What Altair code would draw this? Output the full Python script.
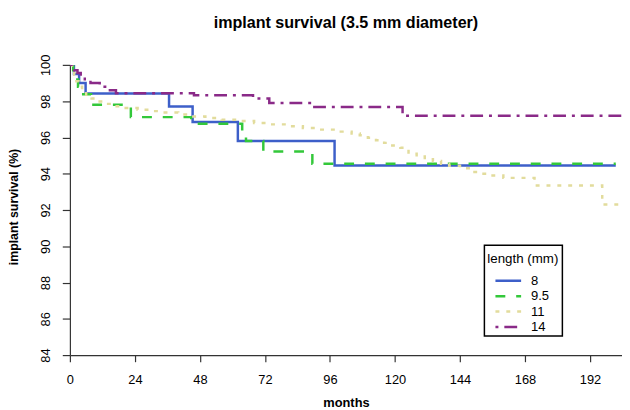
import altair as alt
import pandas as pd

FONT = "Liberation Sans"

lengths = ["8", "9.5", "11", "14"]
line_colors = ["#3d5fc9", "#33c83a", "#e2dc9c", "#8a2a88"]
line_dashes = [[1, 0], [10, 11], [4, 7], [3, 6, 13, 6]]

x_ticks = [0, 24, 48, 72, 96, 120, 144, 168, 192]
y_ticks = [84, 86, 88, 90, 92, 94, 96, 98, 100]

# 8 mm
months_8 = [0, 1.5, 3.4, 5.8, 36.6, 45.3, 62.0, 97.7, 201.5]
surv_8 = [100, 99.5, 99.0, 98.42, 97.7, 96.85, 95.8, 94.45, 94.45]

# 9.5 mm
months_95 = [0, 1.2, 2.2, 3.0, 3.9, 7.8, 22.5, 44.8, 63.6, 65.0, 71.4, 89.5, 201.5]
surv_95 = [100, 99.6, 99.2, 98.8, 98.38, 97.8, 97.12, 96.76, 96.25, 95.8, 95.22, 94.55, 94.55]

# 11 mm
months_11 = [0, 0.8, 1.6, 2.4, 3.2, 4.5, 6.0, 8.0, 10.0, 13.0, 16.0, 20.0, 25.0,
             30.0, 35.0, 40.0, 45.0, 50.0, 56.0, 62.0, 68.0, 74.0, 80.0, 86.0,
             92.0, 100.0, 104.0, 107.0, 110.0, 113.0, 116.0, 119.0, 122.0, 125.0,
             128.0, 131.0, 134.0, 137.0, 140.0, 144.0, 148.0, 151.0, 155.0, 160.0,
             171.5, 196.5, 203.8]
surv_11 = [100, 99.75, 99.45, 99.1, 98.8, 98.55, 98.35, 98.15, 97.98, 97.85, 97.72,
           97.62, 97.53, 97.45, 97.38, 97.27, 97.16, 97.07, 96.98, 96.9, 96.8, 96.72,
           96.62, 96.52, 96.43, 96.32, 96.22, 96.12, 95.98, 95.85, 95.7, 95.55, 95.43,
           95.1, 94.95, 94.8, 94.7, 94.55, 94.44, 94.3, 94.1, 94.0, 93.9, 93.77,
           93.35, 92.3, 92.3]

# 14 mm
months_14 = [0, 0.8, 1.6, 2.8, 4.0, 5.5, 7.6, 11.0, 13.5, 17.0, 45.8, 67.6, 73.6,
             89.5, 122.8, 203.8]
surv_14 = [100, 99.85, 99.7, 99.55, 99.4, 99.2, 99.0, 98.8, 98.6, 98.44, 98.32,
           98.15, 97.9, 97.68, 97.2, 97.2]

series = [(months_8, surv_8), (months_95, surv_95), (months_11, surv_11), (months_14, surv_14)]
rows = []
for name, (ms, ss) in zip(lengths, series):
    for m, s in zip(ms, ss):
        rows.append({"length": name, "month": m, "survival": s})
df = pd.DataFrame(rows)

chart = alt.Chart(df).mark_line(
    interpolate="step-after", strokeWidth=2.5, clip=True
).encode(
    x=alt.X("month:Q",
            scale=alt.Scale(domain=[0, 203.8], nice=False, zero=False),
            axis=alt.Axis(values=x_ticks, title="months", titleY=52,
                          titleBaseline="alphabetic", labelBaseline="alphabetic",
                          labelPadding=22, tickSize=6.7)),
    y=alt.Y("survival:Q",
            scale=alt.Scale(domain=[84, 100], nice=False, zero=False),
            axis=alt.Axis(values=y_ticks, title="implant survival (%)",
                          titleAngle=270, titleX=-52.9, titleY=143.5,
                          titleAlign="center", titleBaseline="alphabetic",
                          titleFontSize=12.5,
                          labelAngle=270, labelAlign="center",
                          labelBaseline="top", labelPadding=23,
                          tickSize=7.7)),
    color=alt.Color("length:N", sort=lengths,
                    scale=alt.Scale(domain=lengths, range=line_colors),
                    legend=alt.Legend(title="length (mm)")),
    strokeDash=alt.StrokeDash("length:N", sort=lengths,
                              scale=alt.Scale(domain=lengths, range=line_dashes),
                              legend=alt.Legend(title="length (mm)")),
).properties(
    width=559.3,
    height=294,
    padding={"left": 62.7, "top": 55, "right": 0, "bottom": 53},
    autosize=alt.AutoSizeParams(type="none"),
    title=alt.TitleParams(text="implant survival (3.5 mm diameter)", font=FONT,
                          fontSize=16.3, fontWeight="bold", color="black",
                          anchor="middle", frame="group", baseline="alphabetic",
                          offset=10),
).configure_view(
    strokeWidth=0
).configure_axis(
    grid=False,
    labelFont=FONT, labelFontSize=13, labelColor="black",
    labelFlush=False, labelOverlap=False,
    titleFont=FONT, titleFontSize=13, titleFontWeight="bold", titleColor="black",
    domainColor="#333333", domainWidth=1.2, tickColor="#333333", tickWidth=1.2,
).configure_legend(
    orient="none", legendX=419.9, legendY=182.7,
    strokeColor="black", strokeWidth=1.5, fillColor="white", padding=3,
    titleFont=FONT, titleFontSize=13.5, titleFontWeight="normal", titleColor="black",
    titleBaseline="line-top", titleLineHeight=22, titlePadding=11.5,
    labelFont=FONT, labelFontSize=13.2, labelColor="black", labelOffset=14.9,
    symbolType="M-2,0L2,0", symbolSize=169, symbolStrokeWidth=2.5, symbolOffset=13.2,
    rowPadding=0.6,
)

chart.save("out.html", embed_options={"renderer": "svg", "actions": False})
